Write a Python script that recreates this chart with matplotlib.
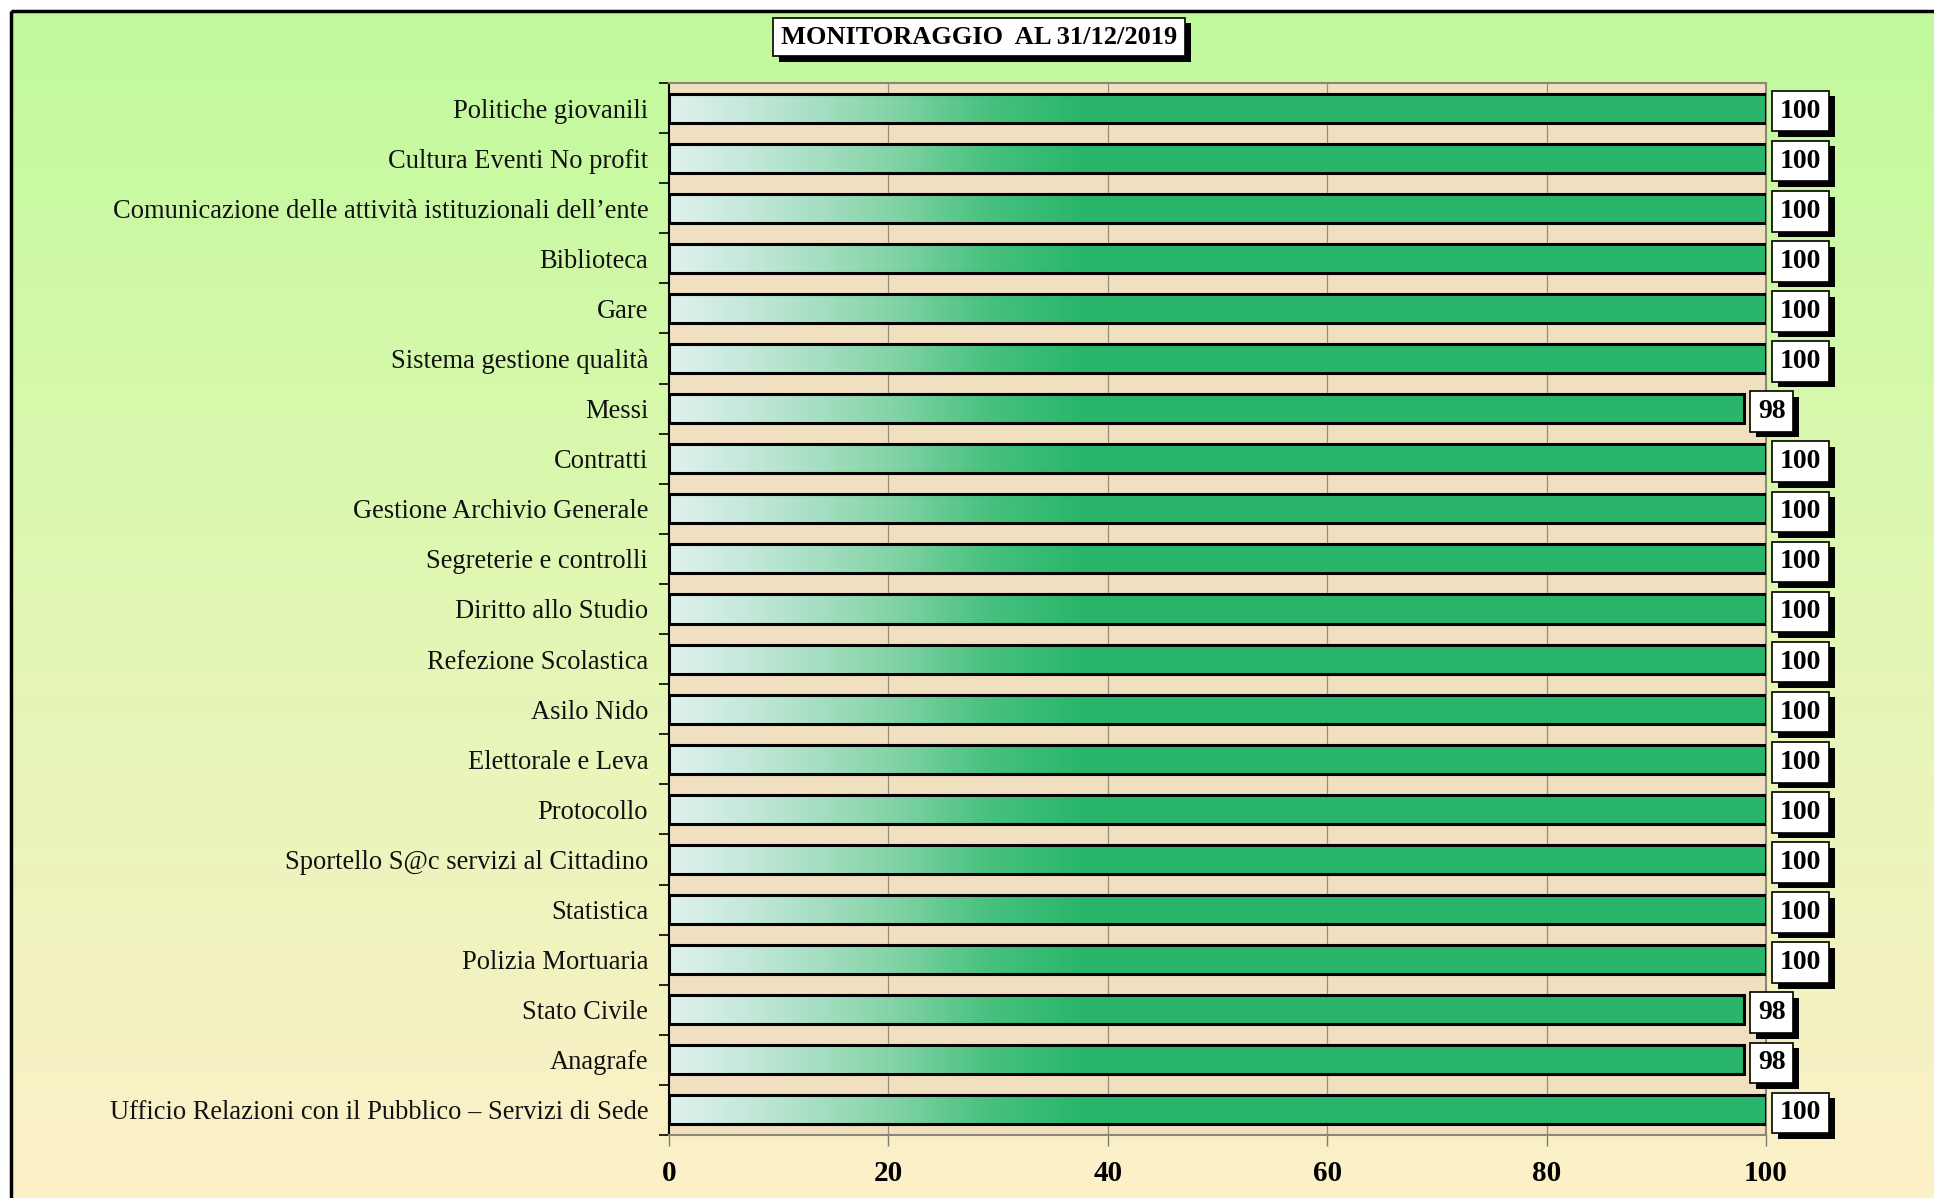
import numpy as np
import matplotlib
matplotlib.use("Agg")
import matplotlib.pyplot as plt
from matplotlib.colors import LinearSegmentedColormap, to_rgb
from matplotlib.patches import Rectangle
import matplotlib.patheffects as pe

# ---------------- data ----------------
categories = [
    "Politiche giovanili",
    "Cultura Eventi No profit",
    "Comunicazione delle attività istituzionali dell\u2019ente",
    "Biblioteca",
    "Gare",
    "Sistema gestione qualità",
    "Messi",
    "Contratti",
    "Gestione Archivio Generale",
    "Segreterie e controlli",
    "Diritto allo Studio",
    "Refezione Scolastica",
    "Asilo Nido",
    "Elettorale e Leva",
    "Protocollo",
    "Sportello S@c servizi al Cittadino",
    "Statistica",
    "Polizia Mortuaria",
    "Stato Civile",
    "Anagrafe",
    "Ufficio Relazioni con il Pubblico \u2013 Servizi di Sede",
]
values = [100, 100, 100, 100, 100, 100, 98, 100, 100, 100, 100,
          100, 100, 100, 100, 100, 100, 100, 98, 98, 100]
xticks = [0, 20, 40, 60, 80, 100]
title = "MONITORAGGIO  AL 31/12/2019"

SERIF = ["Liberation Serif", "DejaVu Serif"]

W, H = 1934, 1198
fig = plt.figure(figsize=(W / 100, H / 100), dpi=100)
fig.patch.set_facecolor("white")

# background gradient (figure-level)
bg = fig.add_axes([0, 0, 1, 1], zorder=-10)
bg.set_xlim(0, W)
bg.set_ylim(H, 0)
bg.axis("off")
top_c = np.array(to_rgb("#c0fa9c"))
mid_c = np.array(to_rgb("#e2f7b4"))
bot_c = np.array(to_rgb("#fdf0c9"))
t = np.linspace(0, 1, 400)[:, None]
grad = np.where(t < 0.5, top_c + (mid_c - top_c) * (t / 0.5),
                mid_c + (bot_c - mid_c) * ((t - 0.5) / 0.5))
grad = grad[:, None, :]
bg.imshow(grad, extent=[11, W + 5, H + 5, 11], aspect="auto", zorder=0)
bg.add_patch(Rectangle((11, 11), W + 20, H + 20, fill=False, ec="black", lw=2.5, zorder=2))

# main axes
ax = fig.add_axes([669 / W, 1 - 1135 / H, (1766 - 669) / W, (1135 - 83) / H])
ax.set_facecolor("#f0e0bf")
n = len(categories)
ax.set_xlim(0, 100)
ax.set_ylim(n - 0.5, -0.5)

for xv in xticks[1:-1]:
    ax.axvline(xv, color="#948d7c", lw=0.9, zorder=1)

cmap = LinearSegmentedColormap.from_list(
    "g", [(0.0, "#e0f1ee"), (0.10, "#b6e4cf"), (0.20, "#84d4a7"),
          (0.29, "#48c17f"), (0.37, "#2ab76b"), (1.0, "#29b66a")])
xs = np.linspace(0, 100, 500)[None, :]
h = 0.58
for i, v in enumerate(values):
    rect = Rectangle((0, i - h / 2), v, h, fc="none", ec="black", lw=2.2, zorder=4)
    ax.add_patch(rect)
    im = ax.imshow(xs / 100.0, cmap=cmap, vmin=0, vmax=1, aspect="auto",
                   extent=[0, 100, i + h / 2, i - h / 2], zorder=3,
                   interpolation="bilinear")
    clip = Rectangle((0, i - h / 2), v, h, transform=ax.transData)
    im.set_clip_path(clip)
    t_ = ax.annotate(str(v), xy=(v, i), xytext=(10, 0), textcoords="offset points",
                     ha="left", va="center_baseline", fontsize=20, fontweight="bold",
                     family=SERIF, color="black", zorder=6,
                     bbox=dict(boxstyle="square,pad=0.28", fc="white", ec="black", lw=1.2))
    t_.get_bbox_patch().set_path_effects(
        [pe.SimplePatchShadow(offset=(4, -4), shadow_rgbFace="black", alpha=1.0), pe.Normal()])

ax.set_xlim(0, 100)
ax.set_ylim(n - 0.5, -0.5)

ax.set_yticks(np.arange(n))
ax.set_yticklabels(categories, family=SERIF, fontsize=19.1, color="#111111")
ax.tick_params(axis="y", which="major", length=0, pad=15)
ax.set_yticks(np.arange(n + 1) - 0.5, minor=True)
ax.tick_params(axis="y", which="minor", length=7, width=1.2, color="black", direction="out")

ax.set_xticks(xticks)
ax.set_xticklabels([str(x) for x in xticks], family=SERIF, fontsize=21, fontweight="bold")
ax.tick_params(axis="x", length=8, width=1.0, color="#7d7d70", pad=10, direction="out")

for s in ["top", "right", "bottom"]:
    ax.spines[s].set_color("#8c8676")
    ax.spines[s].set_linewidth(1.5)
ax.spines["left"].set_color("black")
ax.spines["left"].set_linewidth(1.5)

# title box
tt = fig.text(979 / W, 1 - 37 / H, title, ha="center", va="center",
              fontsize=19, fontweight="bold", family=SERIF,
              bbox=dict(boxstyle="square,pad=0.3", fc="white", ec="black", lw=1.2))
tt.get_bbox_patch().set_path_effects(
    [pe.SimplePatchShadow(offset=(4, -4), shadow_rgbFace="black", alpha=1.0), pe.Normal()])

fig.savefig("out.png", dpi=100)
